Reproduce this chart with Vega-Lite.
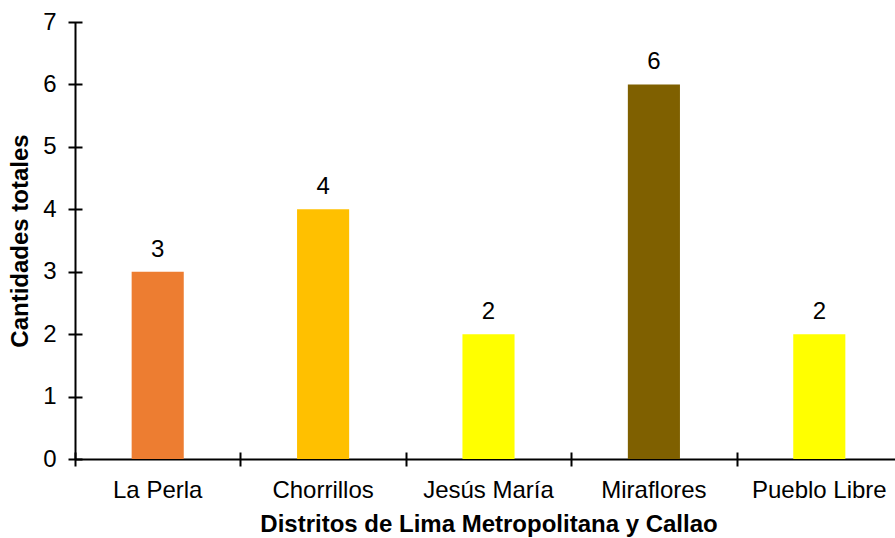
{
  "$schema": "https://vega.github.io/schema/vega-lite/v6.json",
  "width": 820,
  "height": 437,
  "autosize": {"type": "none"},
  "padding": {"left": 75, "top": 22, "right": 0, "bottom": 79},
  "background": "white",
  "config": {
    "view": {"stroke": null},
    "font": "Liberation Sans",
    "axis": {
      "labelFont": "Liberation Sans",
      "titleFont": "Liberation Sans",
      "labelColor": "black",
      "titleColor": "black",
      "domainColor": "black",
      "tickColor": "black",
      "grid": false,
      "labelFontSize": 24,
      "titleFontSize": 24,
      "titleFontWeight": "bold",
      "domainWidth": 2,
      "tickWidth": 2
    }
  },
  "data": {
    "values": [
      {"distrito": "La Perla", "cantidad": 3},
      {"distrito": "Chorrillos", "cantidad": 4},
      {"distrito": "Jesús María", "cantidad": 2},
      {"distrito": "Miraflores", "cantidad": 6},
      {"distrito": "Pueblo Libre", "cantidad": 2}
    ]
  },
  "layer": [
    {
      "mark": {"type": "bar", "width": {"band": 0.315}},
      "encoding": {
        "x": {
          "field": "distrito", "type": "nominal", "sort": null,
          "scale": {"paddingInner": 0, "paddingOuter": 0, "range": [0, 827]},
          "axis": {"orient": "bottom", "title": "Distritos de Lima Metropolitana y Callao", "labelAngle": 0, "ticks": false, "tickSize": 0, "labelPadding": 19, "titlePadding": 10, "labelBaseline": "top"}
        },
        "y": {
          "field": "cantidad", "type": "quantitative",
          "scale": {"domain": [0, 7], "nice": false},
          "axis": {"orient": "left", "title": "Cantidades totales", "values": [0,1,2,3,4,5,6,7], "ticks": false, "tickSize": 0, "labelPadding": 19, "titlePadding": 10}
        },
        "color": {
          "field": "distrito", "type": "nominal", "legend": null,
          "scale": {
            "domain": ["La Perla", "Chorrillos", "Jesús María", "Miraflores", "Pueblo Libre"],
            "range": ["#ED7D31", "#FFC000", "#FFFF00", "#7F6000", "#FFFF00"]
          }
        }
      }
    },
    {
      "mark": {"type": "text", "fontSize": 24, "font": "Liberation Sans", "baseline": "alphabetic", "dy": -15, "color": "black"},
      "encoding": {
        "x": {
          "field": "distrito", "type": "nominal", "sort": null,
          "scale": {"paddingInner": 0, "paddingOuter": 0, "range": [0, 827]},
          "axis": {"orient": "bottom", "title": null, "labels": false, "domain": false, "tickBand": "extent", "tickSize": 14, "offset": -7}
        },
        "y": {
          "field": "cantidad", "type": "quantitative",
          "scale": {"domain": [0, 7], "nice": false},
          "axis": {"orient": "left", "title": null, "labels": false, "domain": false, "values": [0,1,2,3,4,5,6,7], "tickSize": 14, "offset": -7}
        },
        "text": {"field": "cantidad", "type": "quantitative"}
      }
    }
  ],
  "resolve": {"axis": {"x": "independent", "y": "independent"}}
}
